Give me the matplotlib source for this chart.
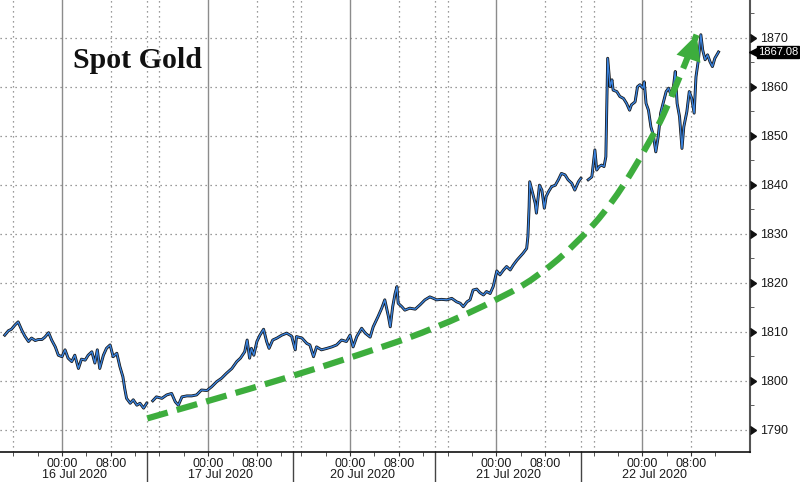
#!/usr/bin/env python3
"""Spot gold intraday, 16-22 Jul 2020"""

import numpy as np
import matplotlib
matplotlib.use("Agg")
import matplotlib.pyplot as plt
from matplotlib.path import Path
from matplotlib.patches import FancyArrowPatch
from matplotlib.ticker import FixedLocator, MultipleLocator

plt.rcParams["font.family"] = ["Liberation Sans", "DejaVu Sans"]

nan = np.nan

# trading hours counted from 16 Jul 2020 00:00 (weekend removed)
hours = [
    -9.4, -8.8, -8.3, -7.7, -7.2, -6.6, -6.1, -5.5, -5.0, -4.4, -3.9, -3.3,
    -2.8, -2.2, -1.7, -1.1, -0.6, 0.0, 0.5, 1.0, 1.6, 2.1, 2.7, 3.2, 3.8,
    4.3, 4.9, 5.4, 5.8, 6.2, 6.8, 7.3, 7.9, 8.4, 9.0, 9.5, 10.0, 10.3, 10.6,
    11.2, 11.7, 12.3, 12.8, 13.4, 13.9, 14.0,
    14.9, 15.5, 16.4, 17.2, 18.0, 18.6, 19.1, 19.7, 20.5, 21.3, 22.1, 22.9,
    23.8, 24.6, 25.4, 26.2, 27.0, 27.9, 28.7, 29.3, 30.0, 30.4, 30.8, 31.1,
    31.5, 32.0, 32.5, 33.1, 33.6, 34.0, 34.6, 35.3, 36.1, 36.9, 37.7,
    38.3, 38.5, 39.4, 40.2, 40.7, 41.3, 41.8, 42.6, 43.5, 44.3, 45.1, 45.9,
    46.7, 47.3, 47.8, 48.4, 49.2, 49.8, 50.6, 51.1, 51.9, 52.5, 53.0, 53.6,
    53.9, 54.3, 54.7, 55.0, 55.2, 55.8, 56.3, 57.1, 58.0, 58.8, 59.6, 60.4,
    61.0,
    61.5, 62.3, 63.2, 64.0, 64.8, 65.4, 65.9, 66.5, 67.0, 67.5, 68.1, 68.6,
    69.2, 69.7, 70.3, 70.8, 71.4, 71.9, 72.5, 73.0, 73.6, 74.1, 74.7, 75.2,
    75.7, 76.3, 76.5, 76.7, 76.8, 77.3, 77.7, 77.9, 78.4, 78.8, 79.2, 79.5,
    79.9, 80.4, 81.0, 81.5, 82.0, 82.6, 83.1, 83.7, 84.2, 84.8, 85.2, 85.3,
    86.4, 87.0, 87.5, 87.8, 88.2, 88.6, 89.0, 89.3, 89.6, 90.0, 90.3, 90.5,
    91.1, 91.6, 92.2, 92.7, 93.2, 93.5, 94.1, 94.5, 94.9, 95.4, 95.6, 95.9,
    96.3, 96.7, 97.1, 97.5, 97.9, 98.3, 98.7, 99.2, 99.6, 100.0, 100.4,
    100.7, 101.0, 101.4, 101.8, 102.1, 102.6, 103.0, 103.4, 103.8, 104.1,
    104.5, 104.9, 105.2, 105.6, 106.0, 106.4, 106.8, 107.2, 107.8,
]
price = [
    1809.3, 1810.2, 1810.5, 1811.4, 1812.0, 1810.3, 1809.1, 1808.0, 1808.7,
    1808.2, 1808.4, 1808.4, 1808.9, 1809.8, 1808.3, 1806.9, 1805.2, 1804.9,
    1806.3, 1804.6, 1803.9, 1805.2, 1802.5, 1804.4, 1804.2, 1805.2, 1805.9,
    1803.6, 1806.3, 1802.5, 1805.2, 1806.6, 1807.3, 1804.9, 1805.6, 1802.9,
    1800.8, 1798.4, 1796.4, 1795.4, 1796.1, 1795.0, 1795.4, 1794.4, 1795.4,
    nan,
    1795.9, 1796.7, 1796.4, 1797.1, 1797.4, 1795.7, 1795.0, 1796.7, 1796.9,
    1796.9, 1797.1, 1798.1, 1798.0, 1798.8, 1799.8, 1800.5, 1801.5, 1802.5,
    1803.9, 1804.6, 1805.9, 1808.3, 1804.6, 1806.6, 1805.2, 1808.0, 1809.3,
    1810.5, 1808.0, 1806.6, 1808.3, 1808.7, 1809.3, 1809.7, 1809.1,
    1806.3, 1809.0, 1808.7, 1807.6, 1807.3, 1804.9, 1806.9, 1806.3, 1806.6,
    1806.9, 1807.3, 1808.3, 1808.0, 1809.3, 1806.9, 1809.0, 1810.7, 1809.7,
    1808.9, 1811.0, 1813.1, 1814.8, 1816.5, 1813.1, 1811.0, 1815.1, 1817.8,
    1819.2, 1815.8, 1815.1, 1814.4, 1814.8, 1814.6, 1815.5, 1816.5, 1817.1,
    1816.8,
    1816.5, 1816.6, 1816.5, 1816.8, 1816.1, 1815.8, 1815.1, 1816.1, 1816.5,
    1818.5, 1818.7, 1818.0, 1817.5, 1818.2, 1817.8, 1819.2, 1822.4, 1821.6,
    1822.6, 1823.3, 1822.6, 1823.6, 1824.6, 1825.3, 1826.0, 1827.0, 1829.4,
    1835.5, 1840.6, 1838.2, 1836.2, 1834.2, 1839.9, 1838.9, 1835.2, 1837.6,
    1838.6, 1839.6, 1839.9, 1841.0, 1842.3, 1842.0, 1841.0, 1840.3, 1838.9,
    1840.6, 1841.3, nan,
    1841.0, 1841.6, 1847.1, 1843.0, 1843.7, 1844.0, 1843.7, 1845.7, 1865.8,
    1860.0, 1861.4, 1859.3, 1859.0, 1858.0, 1857.6, 1856.6, 1855.2, 1856.3,
    1856.9, 1860.0, 1860.4, 1859.7, 1861.0, 1856.6, 1855.2, 1851.8, 1850.1,
    1846.7, 1849.8, 1854.6, 1856.6, 1859.0, 1859.7, 1858.3, 1860.0, 1863.1,
    1856.6, 1853.9, 1847.4, 1851.8, 1854.9, 1859.0, 1857.6, 1854.6, 1862.0,
    1865.5, 1870.6, 1867.5, 1865.5, 1866.5, 1865.1, 1864.1, 1865.8, 1867.08,
]

dates = ["16 Jul 2020", "17 Jul 2020", "20 Jul 2020", "21 Jul 2020", "22 Jul 2020"]
midnights = [0, 24, 47.3, 71.3, 95.3]
session_breaks = [14, 38, 61.3, 85.3]

# green trend arrow waypoints (hours, price)
arrow_h = [14.0, 24.7, 36.7, 48.6, 60.6, 72.5, 78.5, 84.5, 90.4, 96.4, 100.0, 104.2]
arrow_p = [1792.3, 1796.1, 1800.5, 1805.2, 1810.3, 1817.1, 1821.6, 1828.0,
           1836.2, 1848.4, 1857.3, 1870.6]

green = "#3dad3d"

fig = plt.figure(figsize=(8, 4.82), dpi=100)
ax = fig.add_axes([0, 30 / 482, 750 / 800, 452 / 482])
ax.set_xlim(-10.18, 112.97)
ax.set_ylim(1785.45, 1877.69)

grid = dict(color="#7a7a7a", lw=0.9, ls=(0, (1, 3)), zorder=1)
for m in midnights:
    ax.axvline(m, color="#8c8c8c", lw=1.0, zorder=1)
    ax.axvline(m - 8, **grid)
    ax.axvline(m + 8, **grid)
for b in session_breaks:
    ax.axvline(b, **grid)
    ax.axvline(b, ymin=-30 / 452, ymax=0, color="#444", lw=1.0, clip_on=False)
for p in range(1790, 1871, 10):
    ax.axhline(p, **grid)

# price line: dark edge under a blue line
ax.plot(hours, price, color="#151515", lw=2.1, zorder=3)
ax.plot(hours, price, color="#3a82dc", lw=1.0, zorder=4)

# dashed trend arrow body along a smooth curve through the waypoints
pts = list(zip(arrow_h, arrow_p))
verts = [pts[0]]
codes = [Path.MOVETO]
for i in range(1, len(pts) - 1):
    nxt = pts[i + 1] if i + 1 == len(pts) - 1 else (
        (pts[i][0] + pts[i + 1][0]) / 2, (pts[i][1] + pts[i + 1][1]) / 2)
    verts += [pts[i], nxt]
    codes += [Path.CURVE3, Path.CURVE3]
body = FancyArrowPatch(path=Path(verts, codes), arrowstyle="-",
                       color=green, lw=4.5, ls=(0, (3.4, 1.5)),
                       capstyle="butt", zorder=5)
ax.add_patch(body)
# solid head
ax.annotate("", xy=(arrow_h[-1], arrow_p[-1]), xytext=(102.4, 1864.0),
            arrowprops=dict(arrowstyle="-|>,head_length=1.3,head_width=0.65",
                            mutation_scale=14, color=green, lw=0,
                            shrinkA=0, shrinkB=0),
            zorder=6)

ax.text(73 / 750, 1 - 68 / 452, "Spot Gold", transform=ax.transAxes,
        family="Liberation Serif", fontweight="bold", fontsize=21.5,
        va="baseline", ha="left", color="#111")

# axes cosmetics
for side in ["top", "left"]:
    ax.spines[side].set_visible(False)
ax.spines["right"].set_color("#555")
ax.spines["right"].set_linewidth(1.5)
ax.spines["bottom"].set_color("#111")
ax.spines["bottom"].set_linewidth(1.2)

ax.yaxis.tick_right()
ax.yaxis.set_major_locator(MultipleLocator(10))
ax.yaxis.set_minor_locator(MultipleLocator(5))
ax.tick_params(axis="y", which="major", length=0, pad=7, labelsize=9,
               labelcolor="#1a1a1a")
ax.tick_params(axis="y", which="minor", length=3, color="#444", direction="out")
yt = list(range(1790, 1871, 10))
ax.plot([1.0] * len(yt), yt, ls="none", marker=9, ms=6, color="#111",
        transform=ax.get_yaxis_transform(), clip_on=False, zorder=6)

xt, xl = [], []
for m in midnights:
    xt += [m, m + 8]
    xl += ["00:00", "08:00"]
ax.xaxis.set_major_locator(FixedLocator(xt))
ax.set_xticklabels(xl)
ax.xaxis.set_minor_locator(FixedLocator(
    [m + d for m in midnights for d in (-8, -4, 4, 12)]))
ax.tick_params(axis="x", which="both", length=3, color="#333", direction="out",
               labelsize=9, labelcolor="#1a1a1a", pad=1)

for m, d in zip(midnights, dates):
    ax.text(m + 2, -22.5 / 452, d, transform=ax.get_xaxis_transform(),
            ha="center", va="center", fontsize=9, color="#1a1a1a")

# last value tag
last = price[-1]
ax.plot([1.005], [last], marker="<", ms=7, color="black",
        transform=ax.get_yaxis_transform(), clip_on=False, zorder=6)
ax.text(1.0105, last, f"{last:.2f}", transform=ax.get_yaxis_transform(),
        ha="left", va="center", fontsize=8, color="white", clip_on=False,
        bbox=dict(boxstyle="square,pad=0.1", fc="black", ec="black"))

fig.savefig("out.png", dpi=100)
